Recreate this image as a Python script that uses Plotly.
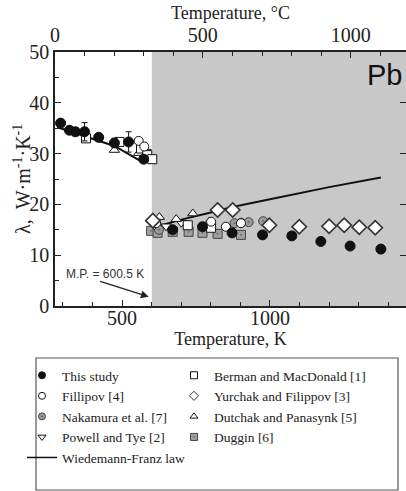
import plotly.graph_objects as go

# ---------------- data ----------------
MP_K = 600.5
X_MIN_K = 273.15
X_MAX_K = 1460.0

this_T = [292, 322, 342, 373, 421, 474, 522, 573, 671, 772, 872, 975, 1074, 1172, 1271, 1375]
this_k = [36.0, 34.6, 34.3, 34.3, 33.2, 32.1, 32.3, 28.9, 15.0, 15.6, 14.4, 14.0, 13.8, 12.7, 11.8, 11.2]
this_err = [0.3, 0.4, 0.8, 1.8, 0.7, 0.8, 2.0, 0.5, 0, 0, 0, 0, 0, 0, 0, 0]

berman_T = [378, 491, 564, 585, 602, 722, 801]
berman_k = [33.0, 32.3, 31.0, 29.7, 28.9, 15.9, 15.4]

fillipov_T = [556, 575, 615, 801, 851, 902]
fillipov_k = [32.5, 31.4, 16.3, 16.6, 15.6, 16.3]

yurchak_T = [604, 823, 874, 998, 1099, 1200, 1251, 1302, 1356]
yurchak_k = [16.8, 18.9, 18.9, 15.9, 15.6, 15.7, 15.9, 15.5, 15.4]
yurchak_err = [0, 0.9, 0.9, 0, 0, 0, 0, 0, 0]

nakamura_T = [625, 880, 903, 928, 977]
nakamura_k = [15.0, 16.3, 16.4, 16.5, 16.7]

dutchak_T = [474, 556, 626, 683, 739, 795]
dutchak_k = [30.7, 30.1, 17.5, 17.1, 18.2, 16.6]

powell_T = [581, 609, 649, 700]
powell_k = [30.4, 15.9, 15.7, 16.4]

duggin_T = [598, 620, 671, 725, 772, 823, 902]
duggin_k = [14.8, 14.4, 14.6, 14.6, 14.4, 14.2, 14.0]

wf_solid_T = [281, 474, 569]
wf_solid_k = [35.2, 31.5, 28.3]
wf_liq_T = [598, 700, 800, 873, 1000, 1065, 1200, 1375]
wf_liq_k = [15.3, 17.0, 18.4, 19.5, 21.0, 21.8, 23.4, 25.3]

legend_col1 = ["This study", "Fillipov [4]", "Nakamura et al. [7]",
               "Powell and Tye [2]", "Wiedemann-Franz law"]
legend_col2 = ["Berman and MacDonald [1]", "Yurchak and Filippov [3]",
               "Dutchak and Panasynk [5]", "Duggin [6]"]

# ---------------- styles ----------------
SERIF = "Liberation Serif, Times New Roman, serif"
SANS = "Liberation Sans, Arial, sans-serif"
BLACK = "#111111"

styles = {
    "This study": dict(symbol="circle", color=BLACK, line=dict(color=BLACK, width=1)),
    "Berman and MacDonald [1]": dict(symbol="square", color="white", line=dict(color=BLACK, width=1)),
    "Fillipov [4]": dict(symbol="circle", color="white", line=dict(color=BLACK, width=1)),
    "Yurchak and Filippov [3]": dict(symbol="diamond", color="white", line=dict(color="#333333", width=1.7)),
    "Nakamura et al. [7]": dict(symbol="circle-dot", color="#9a9a9a", line=dict(color="#444444", width=1)),
    "Dutchak and Panasynk [5]": dict(symbol="triangle-up", color="white", line=dict(color=BLACK, width=1)),
    "Powell and Tye [2]": dict(symbol="triangle-down", color="white", line=dict(color=BLACK, width=1)),
    "Duggin [6]": dict(symbol="square-dot", color="#a0a0a0", line=dict(color="#444444", width=1)),
}

fig = go.Figure()

# liquid-state shading (from melting point to end of axis)
fig.add_shape(type="rect", xref="x", yref="y", x0=MP_K, x1=X_MAX_K, y0=0, y1=50,
              fillcolor="#c8c8c8", line_width=0, layer="below")

# Wiedemann-Franz law lines
fig.add_trace(go.Scatter(x=wf_solid_T, y=wf_solid_k, mode="lines",
                         line=dict(color=BLACK, width=2), showlegend=False))
fig.add_trace(go.Scatter(x=wf_liq_T, y=wf_liq_k, mode="lines",
                         line=dict(color=BLACK, width=2), showlegend=False))

def add_series(name, xs, ys, size, err=None):
    s = styles[name]
    kw = {}
    if err is not None:
        kw["error_y"] = dict(type="data", array=err, visible=True,
                             color=BLACK, thickness=1, width=3)
    fig.add_trace(go.Scatter(x=xs, y=ys, mode="markers", name=name, showlegend=False,
                             marker=dict(symbol=s["symbol"], size=size, color=s["color"],
                                         line=s["line"]), **kw))

add_series("Duggin [6]", duggin_T, duggin_k, 9)
add_series("Nakamura et al. [7]", nakamura_T, nakamura_k, 9)
add_series("Powell and Tye [2]", powell_T, powell_k, 9)
add_series("Dutchak and Panasynk [5]", dutchak_T, dutchak_k, 9)
add_series("Berman and MacDonald [1]", berman_T, berman_k, 9)
add_series("Fillipov [4]", fillipov_T, fillipov_k, 9)
add_series("Yurchak and Filippov [3]", yurchak_T, yurchak_k, 11, yurchak_err)
add_series("This study", this_T, this_k, 10, this_err)

# legend-only entries in two columns (two legends)
def add_legend_entry(name, legend_id):
    if name == "Wiedemann-Franz law":
        fig.add_trace(go.Scatter(x=[None], y=[None], mode="lines", name=name, legend=legend_id,
                                 line=dict(color=BLACK, width=1.5)))
    else:
        s = styles[name]
        fig.add_trace(go.Scatter(x=[None], y=[None], mode="markers", name=name, legend=legend_id,
                                 marker=dict(symbol=s["symbol"], size=7, color=s["color"],
                                             line=dict(color=s["line"]["color"], width=1))))

for n in legend_col1:
    add_legend_entry(n, "legend")
for n in legend_col2:
    add_legend_entry(n, "legend2")

# dummy traces for top / right axes
fig.add_trace(go.Scatter(x=[None], y=[None], xaxis="x2", yaxis="y", showlegend=False))
fig.add_trace(go.Scatter(x=[None], y=[None], xaxis="x", yaxis="y2", showlegend=False))

axis_line = dict(showline=True, linecolor="#222222", linewidth=1.5, ticks="inside",
                 tickcolor="#222222", ticklen=6, tickwidth=1, showgrid=False, zeroline=False)

L, T, B = 55, 52, 185
PW, PH = 406 - L, 491 - T - B

def px(xp):
    return (xp - L) / PW

def py(yp):
    return (491 - B - yp) / PH

leg_common = dict(orientation="v", xanchor="left", yanchor="top", itemwidth=30,
                  font=dict(family=SERIF, size=13.5, color="#222222"),
                  bgcolor="rgba(0,0,0,0)", tracegroupgap=0, borderwidth=0)

fig.update_layout(
    width=406, height=491,
    margin=dict(l=L, r=0, t=T, b=B, autoexpand=False),
    paper_bgcolor="white", plot_bgcolor="white",
    font=dict(family=SERIF, color="#222222"),
    xaxis=dict(range=[X_MIN_K, X_MAX_K], tick0=0, dtick=500,
               minor=dict(dtick=100, tick0=0, ticks="inside", ticklen=4, tickcolor="#222222"),
               tickfont=dict(family=SERIF, size=20), ticklabelstandoff=-7,
               title=dict(text="Temperature, K", font=dict(family=SERIF, size=18), standoff=4),
               **axis_line),
    xaxis2=dict(range=[X_MIN_K - 273.15, X_MAX_K - 273.15], overlaying="x", side="top",
                anchor="y", tick0=0, dtick=500,
                minor=dict(dtick=100, tick0=0, ticks="inside", ticklen=4, tickcolor="#222222"),
                tickfont=dict(family=SERIF, size=20),
                title=dict(text="Temperature, °C", font=dict(family=SERIF, size=18), standoff=0),
                **axis_line),
    yaxis=dict(range=[0, 50], tick0=0, dtick=10,
               minor=dict(dtick=5, ticks="inside", ticklen=4, tickcolor="#222222"),
               tickfont=dict(family=SERIF, size=20),
               **axis_line),
    yaxis2=dict(range=[0, 50], overlaying="y", side="right", anchor="x", dtick=10,
                showticklabels=False, showline=False, ticks="inside", ticklen=6,
                tickcolor="#222222", showgrid=False, zeroline=False),
    legend=dict(x=px(22), y=py(360), **leg_common),
    legend2=dict(x=px(174), y=py(360), **leg_common),
    showlegend=True,
)

# y-axis title placed as rotated text next to the tick labels
fig.add_annotation(x=px(22), y=py(179), xref="paper", yref="paper",
                   text="λ,  W·m<sup>-1</sup>·K<sup>-1</sup>", textangle=-90,
                   showarrow=False, xanchor="center", yanchor="middle",
                   font=dict(family=SERIF, size=20, color="#222222"))

# legend frame
fig.add_shape(type="rect", xref="paper", yref="paper",
              x0=px(36), x1=px(398), y0=py(490), y1=py(358),
              line=dict(color="#555555", width=1.2), fillcolor="rgba(0,0,0,0)")

# Pb label
fig.add_annotation(x=px(384), y=py(75), xref="paper", yref="paper", text="Pb",
                   showarrow=False, xanchor="center", yanchor="middle",
                   font=dict(family=SANS, size=29, color="#111111"))

# melting point arrow + label
fig.add_annotation(x=590, y=1.8, xref="x", yref="y", ax=-50, ay=-16, text="",
                   showarrow=True, arrowhead=2, arrowsize=1.2, arrowwidth=1.3,
                   arrowcolor="#222222")
fig.add_annotation(x=px(105), y=py(274), xref="paper", yref="paper", text="M.P. = 600.5 K",
                   showarrow=False, xanchor="center", yanchor="middle",
                   font=dict(family=SANS, size=12, color="#333333"))

fig.write_html("out.html")
